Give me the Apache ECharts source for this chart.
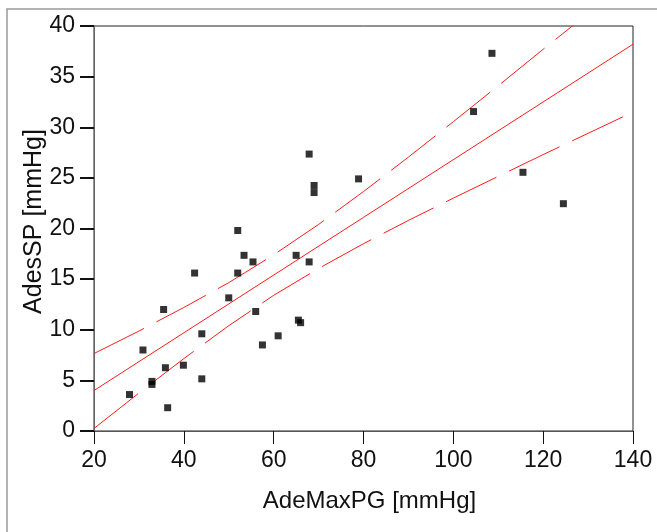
<!DOCTYPE html>
<html>
<head>
<meta charset="utf-8">
<title>AdesSP vs AdeMaxPG</title>
<script src="https://cdn.jsdelivr.net/npm/echarts@6/dist/echarts.min.js"></script>
<style>
  html, body { margin: 0; padding: 0; background: #fff; }
  #chart { width: 657px; height: 532px; }
</style>
</head>
<body>
<div id="chart"></div>
<script>
// Measured pairs: AdeMaxPG (x) and AdesSP (y), both in mmHg
const adeMaxPG = [27.9, 30.9, 32.9, 32.9, 35.5, 35.9, 36.4, 39.9, 42.4, 44.0, 44.0,
  50.0, 52.0, 52.0, 53.4, 55.4, 56.0, 57.5, 61.0, 65.0, 65.5, 66.0, 67.9, 67.9,
  69.0, 69.0, 78.9, 104.5, 108.6, 115.5, 124.5];
const adesSP = [3.6, 8.0, 4.9, 4.6, 12.0, 6.25, 2.3, 6.5, 15.6, 9.6, 5.15,
  13.15, 19.8, 15.6, 17.35, 16.7, 11.8, 8.5, 9.4, 17.35, 10.95, 10.7, 27.35, 16.7,
  24.25, 23.55, 24.9, 31.55, 37.3, 25.55, 22.45];

// Regression line endpoints
const fitX = [20, 140];
const fitY = [4.0, 38.2];

// 95% confidence band, sampled along the x axis
const bandX = [20, 30, 40, 50, 60, 70, 80, 90, 100, 110, 120, 130, 140];
const bandUpper = [7.65, 9.87, 12.2, 14.65, 17.4, 20.4, 23.65, 27.05, 30.55, 34.1, 37.7, 41.25, 44.9];
const bandLower = [0.25, 3.75, 7.15, 10.4, 13.4, 16.05, 18.5, 20.8, 23.0, 25.15, 27.3, 29.4, 31.5];

// Axis ticks
const xTicks = { min: 20, max: 140, step: 20 };
const yTicks = { min: 0, max: 40, step: 5 };

const pairs = (xs, ys) => xs.map((x, i) => [x, ys[i]]);

const FONT = "'Liberation Sans', Arial, sans-serif";
const RED = '#ff1a1a';

const chart = echarts.init(document.getElementById('chart'), null, { renderer: 'canvas' });

chart.setOption({
  backgroundColor: '#fff',
  animation: false,
  graphic: [{
    type: 'rect',
    shape: { x: 7, y: 9, width: 700, height: 600 },
    style: { fill: 'none', stroke: '#9a9a9a', lineWidth: 1.5 },
    silent: true,
    z: -10
  }],
  grid: {
    left: 94, right: 24, top: 26, bottom: 101,
    show: true, borderColor: '#222', borderWidth: 1, backgroundColor: 'transparent'
  },
  xAxis: {
    type: 'value',
    min: xTicks.min, max: xTicks.max, interval: xTicks.step,
    name: 'AdeMaxPG [mmHg]',
    nameLocation: 'middle',
    nameGap: 58,
    nameMoveOverlap: false,
    nameTextStyle: { fontSize: 24, color: '#111', fontFamily: FONT, padding: [0, 0, 0, 12] },
    axisLine: { show: true, lineStyle: { color: '#555', width: 1 } },
    axisTick: { show: true, inside: false, length: 13, lineStyle: { color: '#111', width: 1 } },
    axisLabel: { fontSize: 23, color: '#111', fontFamily: FONT, margin: 18 },
    splitLine: { show: false }
  },
  yAxis: {
    type: 'value',
    min: yTicks.min, max: yTicks.max, interval: yTicks.step,
    name: 'AdesSP [mmHg]',
    nameLocation: 'middle',
    nameGap: 47,
    nameRotate: 90,
    nameMoveOverlap: false,
    nameTextStyle: { fontSize: 25, color: '#111', fontFamily: FONT, padding: [0, 0, 0, 14] },
    axisLine: { show: true, lineStyle: { color: '#666', width: 1 } },
    axisTick: { show: true, inside: false, length: 14, lineStyle: { color: '#111', width: 2 } },
    axisLabel: { fontSize: 23, color: '#111', fontFamily: FONT, margin: 19 },
    splitLine: { show: false }
  },
  series: [
    {
      name: 'Upper 95% CI',
      type: 'line',
      data: pairs(bandX, bandUpper),
      showSymbol: false,
      clip: true,
      lineStyle: { color: RED, width: 1, type: [56, 14] },
      z: 2
    },
    {
      name: 'Lower 95% CI',
      type: 'line',
      data: pairs(bandX, bandLower),
      showSymbol: false,
      clip: true,
      lineStyle: { color: RED, width: 1, type: [56, 14] },
      z: 2
    },
    {
      name: 'Fit',
      type: 'line',
      data: pairs(fitX, fitY),
      showSymbol: false,
      clip: true,
      lineStyle: { color: RED, width: 1 },
      z: 2
    },
    {
      name: 'Data',
      type: 'scatter',
      data: pairs(adeMaxPG, adesSP),
      symbol: 'rect',
      symbolSize: 7,
      itemStyle: { color: '#000' },
      z: 3
    }
  ]
});
</script>
</body>
</html>
